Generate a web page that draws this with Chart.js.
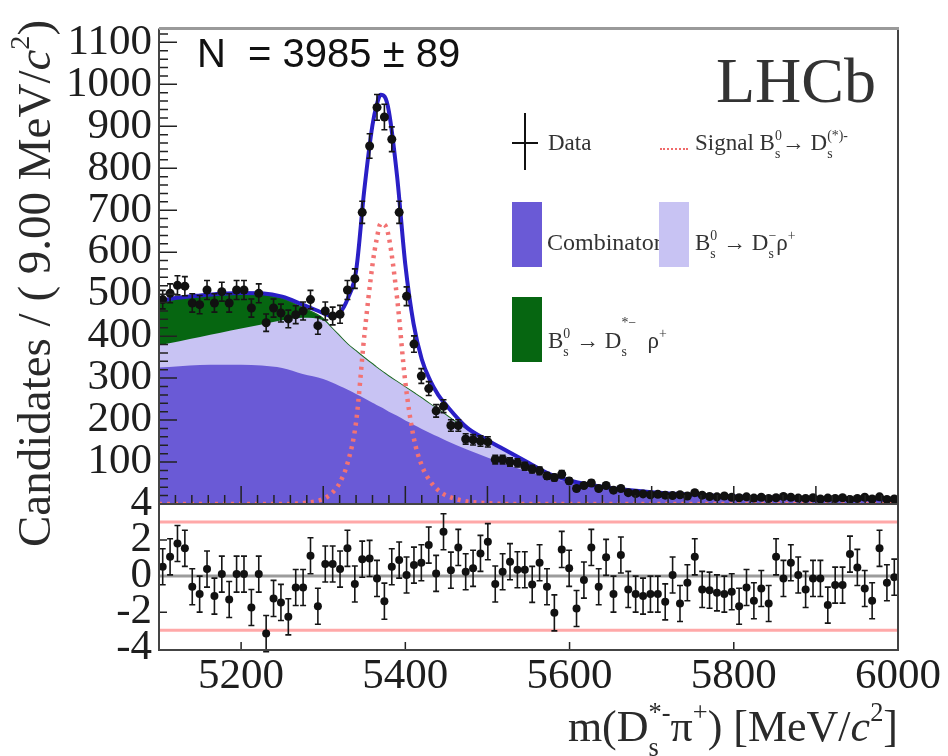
<!DOCTYPE html>
<html>
<head>
<meta charset="utf-8">
<script src="https://cdn.jsdelivr.net/npm/chart.js@4.4.1/dist/chart.umd.min.js"></script>
<style>
  html, body { margin: 0; padding: 0; background: #fff; }
  #wrap { position: relative; width: 948px; height: 756px; overflow: hidden; }
  canvas { position: absolute; left: 0; top: 0; }
  .t { position: absolute; white-space: pre; line-height: 1; font-family: "Liberation Serif", "DejaVu Serif", serif; color: #2a2a2a; }
  .lg { font-size: 23px; color: #333; }
  .st { position: relative; display: inline-block; font-size: .6em; }
  .sp { position: relative; top: -.75em; }
  .sb { position: absolute; left: 0; top: .55em; }
  .up { font-size: .6em; position: relative; top: -.75em; }
  .hi { position: relative; top: -1.5em; }
  .box { position: absolute; }
</style>
</head>
<body>
<div id="wrap">
  <canvas id="mainCanvas" width="948" height="756"></canvas>
  <canvas id="pullCanvas" width="948" height="756"></canvas>

  <div class="t" style="left:197px;top:33px;font-family:'Liberation Sans',Arial,sans-serif;font-size:40px;color:#111">N  = 3985 ± 89</div>
  <div class="t" style="left:716px;top:49px;font-size:64px;color:#333">LHCb</div>

  <!-- legend -->
  <div class="box" style="left:512px;top:142px;width:26px;height:2px;background:#111"></div>
  <div class="box" style="left:524px;top:113px;width:2px;height:57px;background:#111"></div>
  <div class="t lg" style="left:548px;top:131px">Data</div>
  <div class="box" style="left:660px;top:148px;width:28px;border-top:2px dotted #f06a6a"></div>
  <div class="t lg" style="left:695px;top:131px">Signal B<span class="st"><span class="sp">0</span><span class="sb">s</span></span>→ D<span class="st"><span class="sp">(*)-</span><span class="sb">s</span></span></div>
  <div class="t lg" style="left:547px;top:230px;font-size:24px">Combinatorial</div>
  <div class="box" style="left:512px;top:202px;width:30px;height:65px;background:#6a5ad6"></div>
  <div class="box" style="left:659px;top:202px;width:30px;height:65px;background:#c8c3f3"></div>
  <div class="t lg" style="left:695px;top:231px">B<span class="st"><span class="sp">0</span><span class="sb">s</span></span> → D<span class="st"><span class="sp">−</span><span class="sb">s</span></span>ρ<span class="up">+</span></div>
  <div class="box" style="left:512px;top:297px;width:30px;height:65px;background:#066611"></div>
  <div class="t lg" style="left:548px;top:329px">B<span class="st"><span class="sp">0</span><span class="sb">s</span></span> → D<span class="st"><span class="sp hi">*−</span><span class="sb">s</span></span>  ρ<span class="up">+</span></div>

  <!-- axis titles -->
  <div class="t" style="left:11px;top:547px;font-size:47px;transform:rotate(-90deg);transform-origin:0 0">Candidates / ( 9.00 MeV/<i>c</i><span class="up">2</span>)</div>
  <div class="t" style="right:50px;top:705px;font-size:44px">m(D<span class="st"><span class="sp">*-</span><span class="sb">s</span></span>π<span class="up">+</span>) [MeV/<i>c</i><span class="up">2</span>]</div>
</div>

<script>
// histogram bins, 9 MeV wide
const binCenters = [
  5104.5, 5113.5, 5122.5, 5131.5, 5140.5, 5149.5, 5158.5, 5167.5, 5176.5, 5185.5,
  5194.5, 5203.5, 5212.5, 5221.5, 5230.5, 5239.5, 5248.5, 5257.5, 5266.5, 5275.5,
  5284.5, 5293.5, 5302.5, 5311.5, 5320.5, 5329.5, 5338.5, 5347.5, 5356.5, 5365.5,
  5374.5, 5383.5, 5392.5, 5401.5, 5410.5, 5419.5, 5428.5, 5437.5, 5446.5, 5455.5,
  5464.5, 5473.5, 5482.5, 5491.5, 5500.5, 5509.5, 5518.5, 5527.5, 5536.5, 5545.5,
  5554.5, 5563.5, 5572.5, 5581.5, 5590.5, 5599.5, 5608.5, 5617.5, 5626.5, 5635.5,
  5644.5, 5653.5, 5662.5, 5671.5, 5680.5, 5689.5, 5698.5, 5707.5, 5716.5, 5725.5,
  5734.5, 5743.5, 5752.5, 5761.5, 5770.5, 5779.5, 5788.5, 5797.5, 5806.5, 5815.5,
  5824.5, 5833.5, 5842.5, 5851.5, 5860.5, 5869.5, 5878.5, 5887.5, 5896.5, 5905.5,
  5914.5, 5923.5, 5932.5, 5941.5, 5950.5, 5959.5, 5968.5, 5977.5, 5986.5, 5995.5
];

const candidates = [
  487, 502, 521, 519, 479, 475, 510, 479, 506, 479,
  510, 510, 467, 502, 432, 467, 455, 441, 451, 460,
  487, 425, 460, 448, 452, 510, 537, 695, 853, 945,
  922, 869, 695, 495, 381, 305, 275, 222, 233, 187,
  187, 155, 153, 150, 148, 106, 106, 100, 98, 90,
  83, 79, 67, 63, 71, 55, 37, 44, 50, 37,
  44, 33, 37, 27, 25, 24, 22, 23, 21, 20,
  22, 19, 27, 21, 18, 17, 19, 16, 15, 17,
  14, 16, 13, 15, 18, 16, 14, 13, 15, 12,
  14, 13, 15, 11, 13, 16, 12, 17, 11, 12
];

const pulls = [
  0.52, 1.07, 1.81, 1.54, -0.59, -1.0, 0.39, -1.11, 0.11, -1.30,
  0.11, 0.11, -1.74, 0.11, -3.19, -1.24, -1.46, -2.26, -0.63, -0.63,
  1.13, -1.67, 0.67, 0.67, 0.39, 1.54, -0.44, 0.94, 0.98, -0.13,
  -1.39, 0.52, 0.89, 0.06, 0.61, 0.74, 1.72, 0.15, 2.46, 0.33,
  1.59, 0.24, 0.43, 1.26, 1.91, -0.44, 0.24, 0.80, 0.35, 0.35,
  -0.46, 0.74, -0.59, -2.04, 1.48, 0.43, -1.80, -0.22, 1.59, -0.59,
  1.04, -1.0, 1.17, -0.74, -1.0, -1.11, -1.0, -1.0, -1.43, 0.06,
  -1.52, -0.37, 1.07, -0.74, -0.78, -0.93, -1.0, -0.87, -1.67, -0.63,
  -1.37, -0.69, -1.52, 1.07, -0.13, 0.74, 0.06, -0.74, -0.13, -0.13,
  -1.61, -0.50, -0.50, 1.22, 0.48, -0.69, -1.37, 1.54, -0.37, -0.06
];

// fit curves, read at these masses
const curveMass = [5100, 5125, 5150, 5175, 5200, 5225, 5250, 5275, 5300, 5310,
  5320, 5330, 5340, 5350, 5360, 5365, 5370, 5375, 5380, 5390,
  5400, 5410, 5420, 5430, 5440, 5450, 5475, 5500, 5525, 5550,
  5575, 5600, 5650, 5700, 5750, 5800, 5850, 5900, 5950, 6000];
const fitTotal = [484, 492, 497, 501, 503, 502, 494, 475, 455, 448,
  455, 490, 555, 748, 903, 950, 975, 970, 935, 780,
  570, 430, 345, 295, 260, 235, 182, 152, 125, 98,
  72, 56, 38, 28, 22, 18, 15, 13, 12, 11];
const signal = [0, 0, 0, 0, 0, 0, 0, 2, 12, 25,
  50, 100, 195, 400, 570, 630, 668, 665, 635, 490,
  290, 160, 92, 55, 33, 20, 6, 2, 0, 0,
  0, 0, 0, 0, 0, 0, 0, 0, 0, 0];
const combinatorial = [325, 328, 331, 332, 332, 330, 324, 310, 298, 290,
  281, 272, 262, 252, 241, 236, 231, 226, 220, 210,
  199, 189, 179, 169, 160, 151, 130, 111, 93, 77,
  63, 52, 36, 27, 21, 17, 14, 12, 11, 10];
// stacked edges: combinatorial + Ds rho, then + Ds* rho
const dsRhoEdge = [378, 388, 398, 408, 418, 428, 438, 444, 438, 420,
  400, 380, 364, 348, 333, 325, 318, 311, 304, 291,
  278, 265, 252, 238, 225, 211, 177, 151, 124, 96,
  70, 55, 38, 28, 22, 18, 15, 13, 12, 11];
const dsStarRhoEdge = [482, 490, 495, 499, 501, 500, 490, 468, 442, 421,
  401, 381, 365, 349, 334, 326, 319, 312, 305, 292,
  279, 266, 253, 239, 226, 212, 178, 152, 125, 97,
  71, 56, 39, 29, 23, 19, 16, 14, 13, 12];

const yTicksTop = [100, 200, 300, 400, 500, 600, 700, 800, 900, 1000, 1100];
const yTicksPull = [-4, -2, 0, 2, 4];
const xTicks = [5200, 5400, 5600, 5800, 6000];
const pullLimit = 3;

const SERIF = 'Liberation Serif';

function toPoints(xs, ys) {
    return xs.map((x, i) => ({ x: x, y: ys[i] }));
}

function makeErrorBars(values, errorOf) {
    return {
        id: 'errorBars',
        beforeDatasetDraw(chart, args) {
            if (args.index !== 0) return;
            const { ctx, scales: { x, y } } = chart;
            ctx.save();
            ctx.strokeStyle = '#151515';
            ctx.lineWidth = 1.6;
            ctx.beginPath();
            binCenters.forEach((m, i) => {
                const err = errorOf(values[i]);
                const px = x.getPixelForValue(m);
                const top = y.getPixelForValue(values[i] + err);
                const bottom = y.getPixelForValue(values[i] - err);
                ctx.moveTo(px, top); ctx.lineTo(px, bottom);
                ctx.moveTo(px - 3, top); ctx.lineTo(px + 3, top);
                ctx.moveTo(px - 3, bottom); ctx.lineTo(px + 3, bottom);
            });
            ctx.stroke();
            ctx.restore();
        }
    };
}

// ROOT-like frame with ticks drawn inside the plot
function makeFrame(cfg) {
    return {
        id: 'frame',
        afterDatasetsDraw(chart) {
            const { ctx, chartArea: a, scales: { x, y } } = chart;
            ctx.save();
            ctx.strokeStyle = '#222';
            ctx.lineWidth = 1.5;
            ctx.beginPath();
            for (let v = cfg.yMin; v <= cfg.yMax + 1e-9; v += cfg.yMinor) {
                const py = y.getPixelForValue(v);
                const major = Math.abs(v / cfg.yMajor - Math.round(v / cfg.yMajor)) < 1e-6;
                ctx.moveTo(a.left, py);
                ctx.lineTo(a.left + (major ? cfg.majorLen : cfg.minorLen), py);
            }
            for (let v = cfg.xMin; v <= 6000; v += cfg.xMinor) {
                const px = x.getPixelForValue(v);
                const major = v % cfg.xMajor === 0;
                ctx.moveTo(px, a.bottom);
                ctx.lineTo(px, a.bottom - (major ? cfg.majorLen : cfg.minorLen));
            }
            ctx.stroke();

            ctx.lineWidth = 2;
            ctx.strokeStyle = '#444';
            ctx.beginPath();
            ctx.moveTo(a.left, a.top); ctx.lineTo(a.left, a.bottom);
            ctx.lineTo(a.right, a.bottom); ctx.lineTo(a.right, a.top);
            ctx.stroke();
            if (cfg.topLine) {
                ctx.strokeStyle = '#9a9a9a';
                ctx.lineWidth = 3;
                ctx.beginPath();
                ctx.moveTo(a.left, a.top); ctx.lineTo(a.right + 1, a.top);
                ctx.stroke();
            }
            ctx.restore();
        }
    };
}

const tickFont = { family: SERIF, size: 43, lineHeight: 1 };
const plainLabel = v => String(v);

new Chart(document.getElementById('mainCanvas'), {
    type: 'scatter',
    data: {
        datasets: [
            {
                label: 'Data',
                data: toPoints(binCenters, candidates),
                pointRadius: 4.5,
                pointBackgroundColor: '#111',
                pointBorderWidth: 0
            },
            {
                label: 'Fit',
                data: toPoints(curveMass, fitTotal),
                showLine: true,
                borderColor: '#2a1fc6',
                borderWidth: 4,
                pointRadius: 0,
                cubicInterpolationMode: 'monotone'
            },
            {
                label: 'Signal',
                data: toPoints(curveMass, signal),
                showLine: true,
                borderColor: '#f27272',
                borderWidth: 4.5,
                borderDash: [3, 5],
                pointRadius: 0,
                cubicInterpolationMode: 'monotone'
            },
            {
                label: 'Combinatorial',
                data: toPoints(curveMass, combinatorial),
                showLine: true,
                borderColor: 'rgba(0,0,0,0)',
                borderWidth: 0,
                backgroundColor: '#6a5ad6',
                fill: 'origin',
                pointRadius: 0,
                cubicInterpolationMode: 'monotone'
            },
            {
                label: 'Bs -> Ds rho',
                data: toPoints(curveMass, dsRhoEdge),
                showLine: true,
                borderColor: 'rgba(0,0,0,0)',
                borderWidth: 0,
                backgroundColor: '#c8c3f3',
                fill: 'origin',
                pointRadius: 0,
                cubicInterpolationMode: 'monotone'
            },
            {
                label: 'Bs -> Ds* rho',
                data: toPoints(curveMass, dsStarRhoEdge),
                showLine: true,
                borderColor: '#1d6a24',
                borderWidth: 1.2,
                backgroundColor: '#066611',
                fill: 'origin',
                pointRadius: 0,
                cubicInterpolationMode: 'monotone'
            }
        ]
    },
    options: {
        responsive: false,
        animation: false,
        events: [],
        layout: { padding: { top: 14, bottom: 252, left: 0, right: 50 } },
        plugins: { legend: { display: false }, tooltip: { enabled: false } },
        scales: {
            x: { type: 'linear', min: 5100, max: 6000, display: false },
            y: {
                min: 0,
                max: 1133,
                afterBuildTicks: s => { s.ticks = yTicksTop.map(v => ({ value: v })); },
                afterFit: s => { s.width = 159; },
                grid: { display: false, drawTicks: false },
                border: { display: false },
                ticks: { font: tickFont, color: '#1e1e1e', padding: 7, autoSkip: false, callback: plainLabel }
            }
        }
    },
    plugins: [
        makeErrorBars(candidates, v => Math.sqrt(v)),
        makeFrame({ yMin: 0, yMax: 1120, yMinor: 20, yMajor: 100, xMin: 5100, xMinor: 20, xMajor: 100, majorLen: 18, minorLen: 9, topLine: true })
    ]
});

new Chart(document.getElementById('pullCanvas'), {
    type: 'scatter',
    data: {
        datasets: [
            {
                label: 'Pull',
                data: toPoints(binCenters, pulls),
                pointRadius: 4,
                pointBackgroundColor: '#111',
                pointBorderWidth: 0
            },
            {
                label: 'zero',
                data: [{ x: 5100, y: 0 }, { x: 6000, y: 0 }],
                showLine: true,
                borderColor: '#9c9c9c',
                borderWidth: 3,
                pointRadius: 0
            },
            {
                label: '+3',
                data: [{ x: 5100, y: pullLimit }, { x: 6000, y: pullLimit }],
                showLine: true,
                borderColor: '#ffa8a8',
                borderWidth: 3,
                pointRadius: 0
            },
            {
                label: '-3',
                data: [{ x: 5100, y: -pullLimit }, { x: 6000, y: -pullLimit }],
                showLine: true,
                borderColor: '#ffa8a8',
                borderWidth: 3,
                pointRadius: 0
            }
        ]
    },
    options: {
        responsive: false,
        animation: false,
        events: [],
        layout: { padding: { top: 504, bottom: 0, left: 0, right: 50 } },
        plugins: { legend: { display: false }, tooltip: { enabled: false } },
        scales: {
            x: {
                type: 'linear',
                min: 5100,
                max: 6000,
                afterBuildTicks: s => { s.ticks = xTicks.map(v => ({ value: v })); },
                afterFit: s => { s.height = 106; },
                grid: { display: false, drawTicks: false },
                border: { display: false },
                ticks: { font: tickFont, color: '#1e1e1e', padding: 5, autoSkip: false, maxRotation: 0, callback: plainLabel }
            },
            y: {
                min: -4.1,
                max: 4,
                afterBuildTicks: s => { s.ticks = yTicksPull.map(v => ({ value: v })); },
                afterFit: s => { s.width = 159; },
                grid: { display: false, drawTicks: false },
                border: { display: false },
                ticks: { font: tickFont, color: '#1e1e1e', padding: 7, autoSkip: false, callback: plainLabel }
            }
        }
    },
    plugins: [
        makeErrorBars(pulls, () => 1),
        makeFrame({ yMin: -2, yMax: 2, yMinor: 4, yMajor: 4, xMin: 5200, xMinor: 200, xMajor: 100000, majorLen: 10, minorLen: 8, topLine: false })
    ]
});
</script>
</body>
</html>
